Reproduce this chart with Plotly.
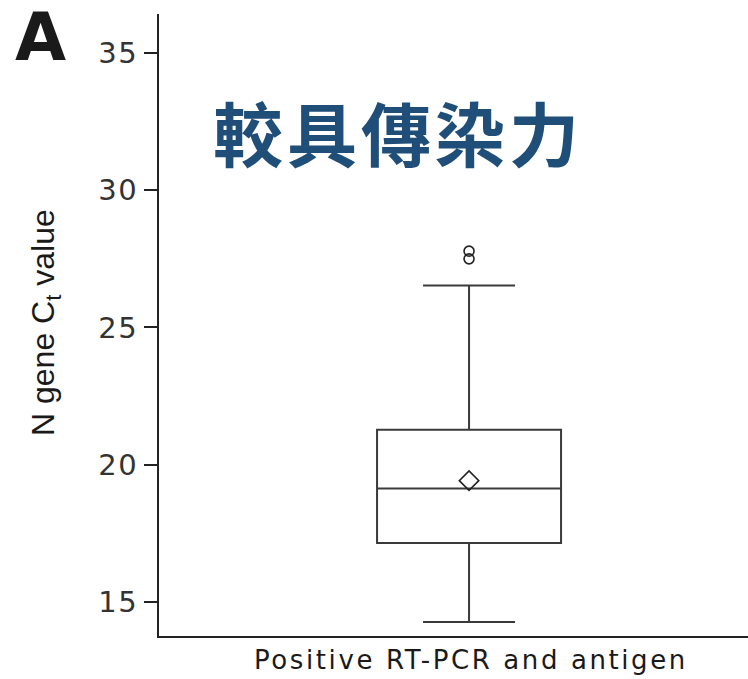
import plotly.graph_objects as go

# Summary statistics of N gene Ct values (positive RT-PCR and antigen)
group = "Positive RT-PCR and antigen"
q1 = [17.15]
median = [19.13]
q3 = [21.27]
lower_fence = [14.27]
upper_fence = [26.53]
mean_val = [19.42]
outliers = [27.78, 27.50]

y_ticks = [15, 20, 25, 30, 35]
y_tick_text = [str(v) for v in y_ticks]

line_col = "#3a3a3a"

# plot area geometry in pixels (used to place the free-floating labels)
W, H = 748, 679
L, R, T, B = 159, 0, 14, 43
PW, PH = W - L - R, H - T - B


def px(x):
    return (x - L) / PW


def py(y):
    return (H - B - y) / PH


fig = go.Figure()

fig.add_trace(go.Box(
    x=[0], q1=q1, median=median, q3=q3,
    lowerfence=lower_fence, upperfence=upper_fence,
    width=1, whiskerwidth=0.5,
    fillcolor="white", line=dict(color=line_col, width=2),
    boxpoints=False, showlegend=False, hoverinfo="skip",
))

fig.add_trace(go.Scatter(
    x=[0] * len(outliers), y=outliers, mode="markers",
    marker=dict(symbol="circle-open", size=10, color="#222",
                line=dict(width=1.6, color="#222")),
    showlegend=False,
))

fig.add_trace(go.Scatter(
    x=[0], y=mean_val, mode="markers",
    marker=dict(symbol="diamond-open", size=15, color="#222",
                line=dict(width=1.6, color="#222")),
    showlegend=False,
))

fig.update_layout(
    width=W, height=H,
    margin=dict(l=L, r=R, t=T, b=B),
    plot_bgcolor="white", paper_bgcolor="white",
    xaxis=dict(range=[-1.685, 1.516], showticklabels=False, showgrid=False,
               zeroline=False, showline=True, linecolor="#222", linewidth=2,
               ticks=""),
    yaxis=dict(range=[13.76, 36.42], tickvals=y_ticks,
               ticktext=['<span style="letter-spacing:1.5px">%s</span>' % t
                         for t in y_tick_text],
               showgrid=False,
               zeroline=False, showline=True, linecolor="#222", linewidth=2,
               ticks="outside", ticklen=13, tickwidth=2, tickcolor="#222",
               tickfont=dict(family="DejaVu Sans", size=29, color="#333")),
)

fig.add_annotation(text="<b>A</b>", xref="paper", yref="paper",
                   x=px(13), y=py(8), xanchor="left", yanchor="top",
                   height=54, valign="middle",
                   showarrow=False,
                   font=dict(family="DejaVu Sans", size=66, color="#1a1a1a"))
fig.add_annotation(text="N gene C<sub>t</sub> value", xref="paper", yref="paper",
                   x=px(45), y=py(323), textangle=-90,
                   xanchor="center", yanchor="middle", showarrow=False,
                   font=dict(family="Liberation Sans", size=32, color="#1a1a1a"))
fig.add_annotation(text='<span style="letter-spacing:2.6px">%s</span>' % group,
                   xref="paper", yref="paper",
                   x=px(471), y=py(660),
                   xanchor="center", yanchor="middle", showarrow=False,
                   font=dict(family="DejaVu Sans", size=26, color="#1a1a1a"))
fig.add_annotation(text='<span style="letter-spacing:4px"><b>較具傳染力</b></span>',
                   xref="paper", yref="paper",
                   x=px(398), y=py(131),
                   xanchor="center", yanchor="middle", showarrow=False,
                   font=dict(family="Noto Sans CJK TC", size=70, color="#1f4e79"))

fig.write_html("out.html")
